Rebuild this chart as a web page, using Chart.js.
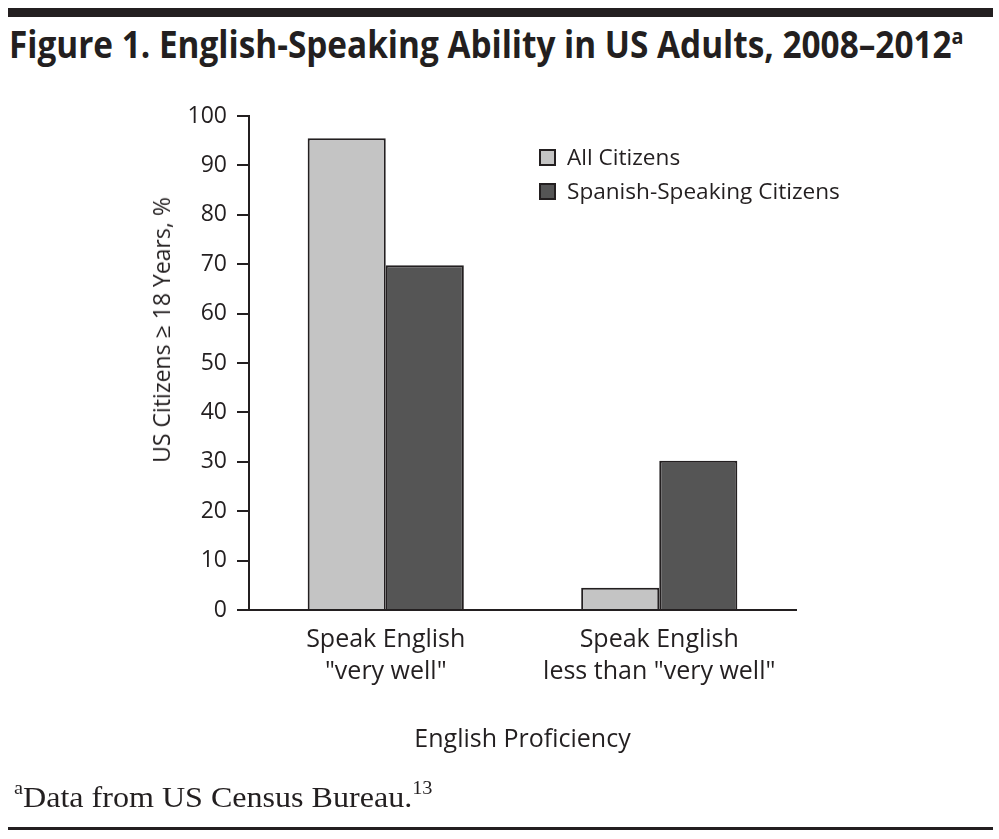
<!DOCTYPE html>
<html>
<head>
<meta charset="utf-8">
<script src="https://cdn.jsdelivr.net/npm/chart.js@4.4.1/dist/chart.umd.min.js"></script>
<style>
body { margin: 0; background: #fff; }
#page { position: relative; width: 999px; height: 839px; overflow: hidden; font-family: "Open Sans", sans-serif; color: #231f20; }
#topbar { position: absolute; left: 8px; top: 8px; width: 985px; height: 9px; background: #231f20; }
#title { position: absolute; left: 9px; top: 18px; font-weight: 700; font-size: 37px; white-space: nowrap; transform-origin: left top; }
#title sup { font-size: 22px; vertical-align: 14px; line-height: 0; }
#wrap { position: absolute; left: 0; top: 0; width: 999px; height: 839px; }
#ytitle { position: absolute; left: 161px; top: 330px; font-size: 23px; white-space: nowrap; transform: translate(-50%, -50%) rotate(-90deg); }
#legend { position: absolute; left: 539px; top: 144px; font-size: 22.6px; }
#legend div { height: 34px; line-height: 26px; white-space: nowrap; }
#legend span.box { display: inline-block; width: 13px; height: 13px; border: 2px solid #231f20; margin-right: 11px; vertical-align: -1px; }
#foot { position: absolute; left: 14px; top: 780px; font-family: "Liberation Serif", serif; font-size: 30px; white-space: nowrap; transform-origin: left top; }
#foot sup { font-size: 19px; vertical-align: 13px; line-height: 0; }
#bottombar { position: absolute; left: 8px; top: 827px; width: 985px; height: 3px; background: #231f20; }
</style>
</head>
<body>
<div id="page">
  <div id="topbar"></div>
  <div id="title">Figure 1. English-Speaking Ability in US Adults, 2008–2012<sup>a</sup></div>
  <div id="wrap"><canvas id="myChart"></canvas></div>
  <div id="ytitle">US Citizens ≥ 18 Years, %</div>
  <div id="legend"></div>
  <div id="foot"><sup>a</sup>Data from US Census Bureau.<sup>13</sup></div>
  <div id="bottombar"></div>
</div>
<script>
var categories = [["Speak English", "\"very well\""], ["Speak English", "less than \"very well\""]];
var seriesNames = ["All Citizens", "Spanish-Speaking Citizens"];
var allCitizens = [95.5, 4.5];
var spanishSpeaking = [69.8, 30.2];
var yTicks = [0, 10, 20, 30, 40, 50, 60, 70, 80, 90, 100];

var fills = ["#c4c4c4", "#555555"];
var ink = "#231f20";

// squeeze title and footnote to the widths of the original
function fitWidth(id, w) {
	var el = document.getElementById(id);
	el.style.transform = "scaleX(" + (w / el.offsetWidth) + ")";
}
fitWidth("title", 955);
fitWidth("foot", 419);

// legend
var legend = document.getElementById("legend");
seriesNames.forEach(function(name, i) {
	var row = document.createElement("div");
	row.innerHTML = '<span class="box" style="background:' + fills[i] + '"></span>' + name;
	legend.appendChild(row);
});

var ctx = document.getElementById("myChart").getContext("2d");
var myChart = new Chart(ctx, {
	type: 'bar',
	data: {
		labels: categories,
		datasets: [{
			label: seriesNames[0],
			data: allCitizens,
			backgroundColor: fills[0],
			borderColor: ink,
			borderWidth: 2
		}, {
			label: seriesNames[1],
			data: spanishSpeaking,
			backgroundColor: fills[1],
			borderColor: ink,
			borderWidth: 2
		}]
	},
	options: {
		responsive: true,
		maintainAspectRatio: false,
		animation: false,
		layout: {
			padding: { left: 0, top: 116, right: 203, bottom: 84.6 }
		},
		datasets: {
			bar: { categoryPercentage: 0.571, barPercentage: 1 }
		},
		plugins: {
			legend: { display: false },
			tooltip: { enabled: false }
		},
		scales: {
			x: {
				grid: { display: false, drawTicks: false },
				border: { display: true, color: ink, width: 2 },
				ticks: {
					color: ink,
					padding: 14,
					maxRotation: 0,
					font: { family: "Open Sans", size: 25, lineHeight: 1.28 }
				},
				title: {
					display: true,
					text: "English Proficiency",
					color: ink,
					padding: 0,
					font: { family: "Open Sans", size: 25 }
				},
				afterFit: function(scale) { scale.height = 144.4; }
			},
			y: {
				min: 0,
				max: 100,
				afterBuildTicks: function(scale) {
					scale.ticks = yTicks.map(function(v) { return { value: v }; });
				},
				grid: { drawOnChartArea: false, drawTicks: true, tickLength: 12, color: ink, lineWidth: 2 },
				border: { display: true, color: ink, width: 2 },
				ticks: {
					color: ink,
					padding: 10,
					font: { family: "Open Sans", size: 23 }
				},
				afterFit: function(scale) { scale.width = 249; }
			}
		}
	}
});
</script>
</body>
</html>
